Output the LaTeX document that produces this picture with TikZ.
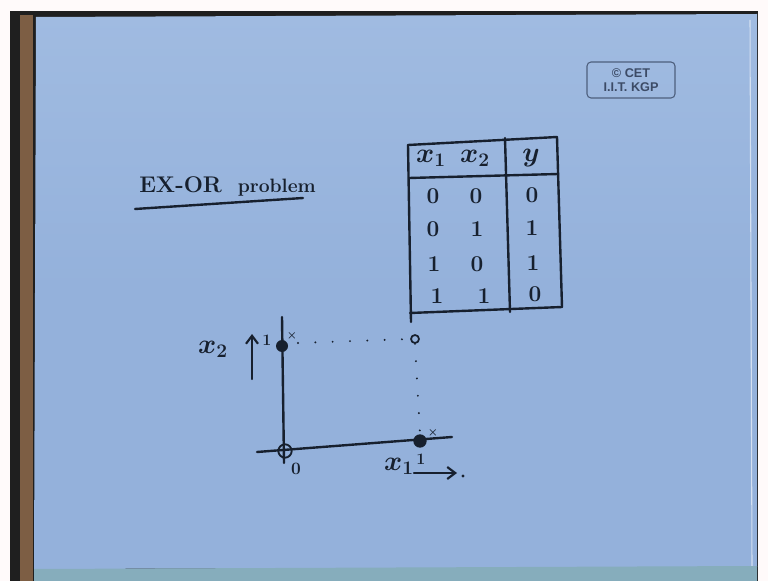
\documentclass[tikz,border=0pt]{standalone}
\usepackage{fontspec}
\usetikzlibrary{arrows.meta}
\newfontfamily\stampfont{Liberation Sans}
\definecolor{paper}{HTML}{94B1DB}
\definecolor{paperlight}{HTML}{A0BBE1}
\definecolor{ink}{HTML}{17202E}
\definecolor{stampc}{HTML}{3C4B66}
\definecolor{wood}{HTML}{7D5E44}
\definecolor{sheet}{HTML}{86ADBC}
\begin{document}
\begin{tikzpicture}[x=0.75pt,y=-0.75pt,
  inkline/.style={draw=ink,line width=1.8pt,line cap=round},
  dotline/.style={draw=ink,line width=1.6pt,line cap=round,dash pattern=on 0pt off 13pt},
  hand/.style={text=ink,inner sep=0pt,font=\fontsize{16}{18}\selectfont},
  cell/.style={text=ink,inner sep=0pt,font=\fontsize{17}{19}\selectfont\bfseries},
  stamptext/.style={text=stampc,inner sep=0pt,font=\stampfont\bfseries\fontsize{9.5}{10}\selectfont},
  harrow/.style={inkline,-{Straight Barb[length=6pt,width=9pt,line width=1.6pt]}}]
\useasboundingbox (0,0) rectangle (768,581);
% background / photo frame
\fill[white!92!pink] (0,0) rectangle (768,581);
\fill[black!88] (10,11) rectangle (758,581);
\fill[wood] (20,15) rectangle (33,581);
\shade[top color=paperlight,bottom color=paper,middle color=paper] (36,17) -- (757,14) -- (757,567) -- (34,569) -- cycle;
\draw[white!60!paper,line width=0.8pt] (750,20) -- (752,566);
\fill[sheet] (34,569) -- (757,566) -- (757,581) -- (34,581) -- cycle;
% stamp
\node[draw=stampc!80!paper,line width=0.8pt,rounded corners=3pt,minimum width=66pt,minimum height=27pt] (stamp) at (631,80) {};
\node[stamptext] (cet) at (631,73) {\textcopyright\ CET};
\node[stamptext] (kgp) at (631,87) {I.I.T. KGP};
% title
\node[hand,anchor=base west,font=\fontsize{17}{20}\selectfont\bfseries] (title) at (139,193) {EX-OR\hspace{0.7em}{\fontsize{14.5}{16}\selectfont problem}};
\coordinate (ul1) at (135,209);
\coordinate (ul2) at (303,198);
\draw[inkline] (ul1) -- (ul2);
% table
\coordinate (tl) at (408,145);
\coordinate (tr) at (557,137);
\coordinate (bl) at (410,313);
\coordinate (br) at (562,307);
\coordinate (lbot) at (411,322);
\coordinate (hl) at (409,178);
\coordinate (hr) at (558,174);
\coordinate (dt) at (505,138);
\coordinate (db) at (510,312);
\draw[inkline] (tl) -- (tr);
\draw[inkline] (tl) -- (lbot);
\draw[inkline] (tr) -- (br);
\draw[inkline] (hl) -- (hr);
\draw[inkline] (dt) -- (db);
\draw[inkline] (bl) -- (br);
\node[hand,font=\fontsize{22}{24}\selectfont\boldmath] (h1) at (431,158) {$x_1$};
\node[hand,font=\fontsize{22}{24}\selectfont\boldmath] (h2) at (475,158) {$x_2$};
\node[hand,font=\fontsize{22}{24}\selectfont\boldmath] (h3) at (531,158) {$y$};
\node[cell] (a1) at (433,196) {0};
\node[cell] (b1) at (476,196) {0};
\node[cell] (c1) at (532,195) {0};
\node[cell] (a2) at (433,229) {0};
\node[cell] (b2) at (477,229) {1};
\node[cell] (c2) at (532,228) {1};
\node[cell] (a3) at (434,264) {1};
\node[cell] (b3) at (477,264) {0};
\node[cell] (c3) at (533,263) {1};
\node[cell] (a4) at (437,296) {1};
\node[cell] (b4) at (484,296) {1};
\node[cell] (c4) at (535,294) {0};
% graph axes
\coordinate (vtop) at (282,317);
\coordinate (vbot) at (284,463);
\coordinate (hleft) at (257,452);
\coordinate (hright) at (452,437);
\draw[inkline] (vtop) -- (vbot);
\draw[inkline] (hleft) -- (hright);
% points
\node[circle,draw=ink,line width=1.4pt,minimum size=10pt,inner sep=0pt] (p00) at (285,451) {};
\node[circle,fill=ink,minimum size=9pt,inner sep=0pt] (p01) at (282,346) {};
\node[circle,fill=ink,minimum size=10pt,inner sep=0pt] (p10) at (420,441) {};
\node[circle,draw=ink,line width=1.3pt,minimum size=6pt,inner sep=0pt] (p11) at (415,339) {};
\coordinate (d1) at (298,343);
\draw[dotline] (d1) -- (p11.west);
\draw[dotline] (p11.south) -- (p10.north);
% labels
\node[hand,font=\fontsize{20}{22}\selectfont\boldmath] (lx2) at (213,349) {$x_2$};
\coordinate (au1) at (252,379);
\coordinate (au2) at (252,334);
\draw[harrow] (au1) -- (au2);
\node[hand,font=\fontsize{12}{13}\selectfont\bfseries] (one2) at (267,340) {1};
\node[hand,font=\fontsize{8}{9}\selectfont\boldmath] (mk1) at (292,336) {$\times$};
\node[hand,font=\fontsize{8}{9}\selectfont\boldmath] (mk2) at (433,433) {$\times$};
\node[hand,font=\fontsize{13}{14}\selectfont\bfseries] (zero) at (296,469) {0};
\node[hand,font=\fontsize{20}{22}\selectfont\boldmath] (lx1) at (399,466) {$x_1$};
\node[hand,font=\fontsize{12}{13}\selectfont\bfseries] (one1) at (421,459) {1};
\coordinate (ar1) at (414,473);
\coordinate (ar2) at (457,473);
\draw[harrow] (ar1) -- (ar2);
\node[circle,fill=ink,minimum size=2.5pt,inner sep=0pt] (dot) at (463,476) {};
\end{tikzpicture}
\end{document}
